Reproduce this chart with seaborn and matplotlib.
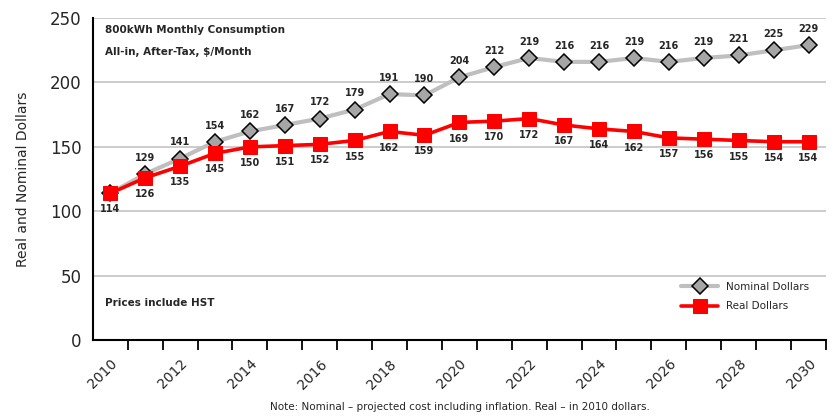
import numpy as np
import pandas as pd
import matplotlib
matplotlib.use("Agg")
import matplotlib.pyplot as plt
import seaborn as sns

years = list(range(2010, 2031))
nominal = [114, 129, 141, 154, 162, 167, 172, 179, 191, 190, 204, 212, 219, 216, 216, 219, 216, 219, 221, 225, 229]
real = [114, 126, 135, 145, 150, 151, 152, 155, 162, 159, 169, 170, 172, 167, 164, 162, 157, 156, 155, 154, 154]
xtick_labels = [str(y) for y in range(2010, 2031, 2)]

df = pd.DataFrame({"idx": np.arange(len(years)), "year": years, "Nominal": nominal, "Real": real})

sns.set_style("white")
plt.rcParams['font.family'] = ['DejaVu Sans']

fig = plt.figure(figsize=(8.36, 4.2), dpi=100)
ax = fig.add_axes([0.111, 0.19, 0.877, 0.767])

sns.lineplot(data=df, x="idx", y="Nominal", ax=ax, color="#BFBFBF", lw=3,
             marker="D", markersize=8.5, markerfacecolor="#A6A6A6",
             markeredgecolor="black", markeredgewidth=1.1, label="Nominal Dollars", zorder=3)
sns.lineplot(data=df, x="idx", y="Real", ax=ax, color="#FF0000", lw=2.6,
             marker="s", markersize=9.5, markerfacecolor="#FF0000",
             markeredgecolor="#FF0000", label="Real Dollars", zorder=4)

for i, (n, r) in enumerate(zip(nominal, real)):
    if i > 0:
        ax.annotate(str(n), (i, n), xytext=(0, 8), textcoords="offset points",
                    ha="center", va="bottom", fontsize=7, fontweight="bold")
    ax.annotate(str(r), (i, r), xytext=(0, -8), textcoords="offset points",
                ha="center", va="top", fontsize=7, fontweight="bold")

ax.set_xlim(-0.5, 20.5)
ax.set_ylim(0, 250)
ax.set_yticks(range(0, 251, 50))
ax.tick_params(axis="y", labelsize=12, length=0, pad=8)
for y in range(50, 251, 50):
    ax.axhline(y, color="#C8C8C8", lw=1.3, zorder=1)

ax.set_xticks(range(0, 21, 2))
ax.set_xticklabels(xtick_labels, rotation=45, ha="right", rotation_mode="anchor", fontsize=10)
ax.tick_params(axis="x", which="major", length=0, pad=12, bottom=True)
ax.set_xticks(np.arange(0.5, 21, 1), minor=True)
ax.tick_params(axis="x", which="minor", length=7, width=1.3, direction="out", color="black", bottom=True)

ax.set_xlabel("")
ax.set_ylabel("Real and Nominal Dollars", fontsize=10)
ax.yaxis.set_label_coords(-0.085, 0.5)

for s in ["top", "right"]:
    ax.spines[s].set_visible(False)
for s in ["left", "bottom"]:
    ax.spines[s].set_color("black")
    ax.spines[s].set_linewidth(1.5)

ax.text(0.017, 0.955, "800kWh Monthly Consumption", transform=ax.transAxes, fontsize=7.5, fontweight="bold")
ax.text(0.017, 0.885, "All-in, After-Tax, $/Month", transform=ax.transAxes, fontsize=7.5, fontweight="bold")
ax.text(0.017, 0.105, "Prices include HST", transform=ax.transAxes, fontsize=7.5, fontweight="bold")

leg = ax.legend(loc="lower right", bbox_to_anchor=(0.99, 0.06), frameon=False, fontsize=7.5,
                handlelength=3.5, labelspacing=0.9)

fig.text(0.55, 0.02, "Note: Nominal \u2013 projected cost including inflation. Real \u2013 in 2010 dollars.",
         ha="center", va="bottom", fontsize=7.5)

fig.savefig("out.png", dpi=100)
